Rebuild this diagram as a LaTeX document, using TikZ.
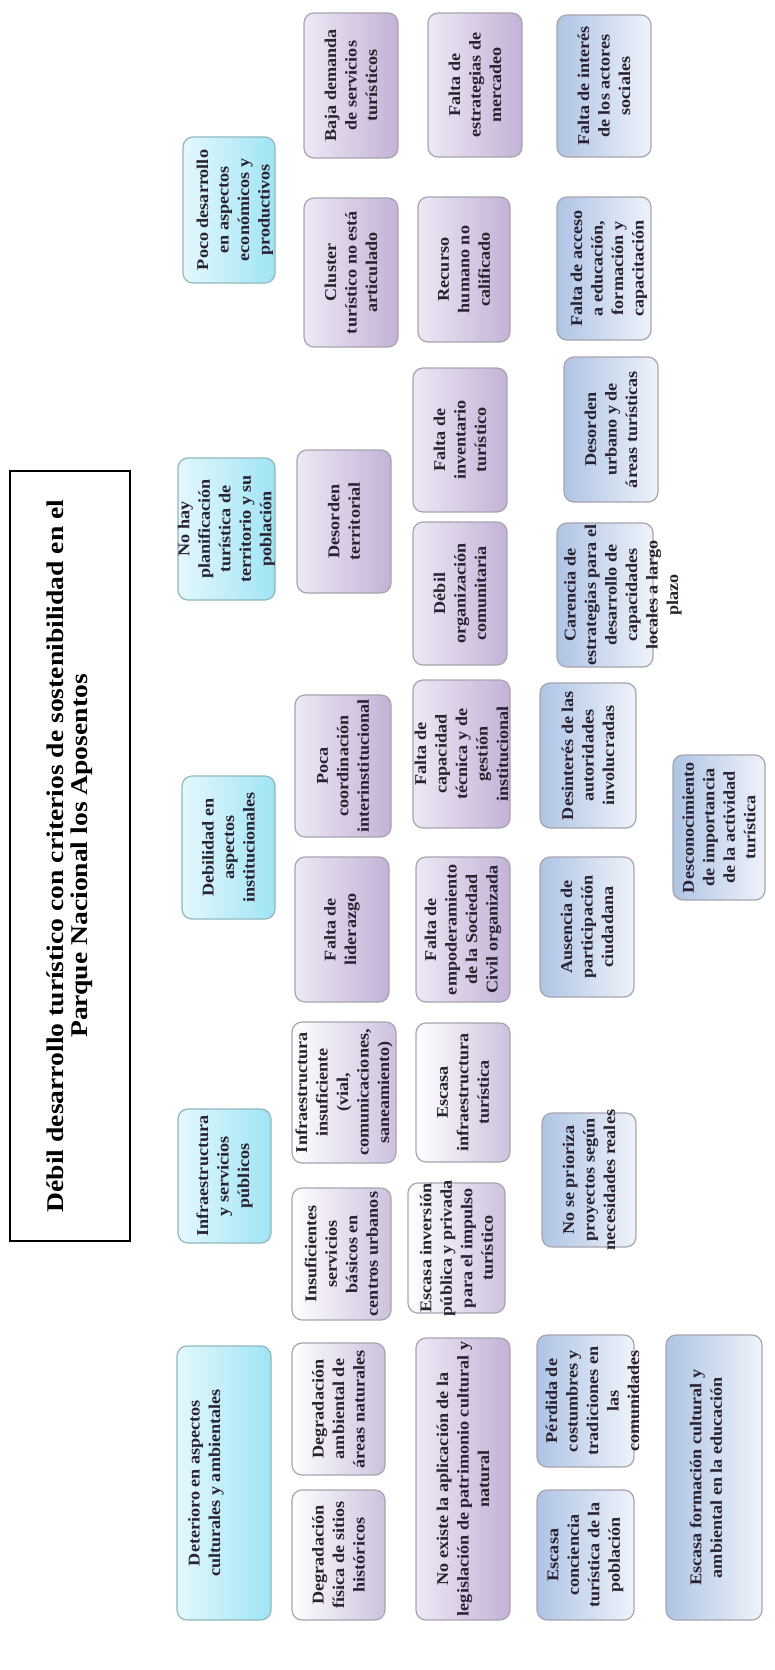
\documentclass[tikz,border=0pt]{standalone}
\usepackage{fontspec}
\setmainfont{Liberation Serif}
\newfontfamily\ttlfont[FakeStretch=1.15]{Liberation Serif}
\newfontfamily\bodyfont[FakeStretch=1.1]{Liberation Serif}
\definecolor{hdrL}{HTML}{E4F8FC}
\definecolor{hdrR}{HTML}{9FE4F4}
\definecolor{hdrline}{HTML}{8FB8BC}
\definecolor{purL}{HTML}{EEE8F5}
\definecolor{purR}{HTML}{C3B2D6}
\definecolor{wpL}{HTML}{FFFFFF}
\definecolor{wpR}{HTML}{CDC1DE}
\definecolor{bluL}{HTML}{AFC4E4}
\definecolor{bluR}{HTML}{EEF3FA}
\definecolor{boxline}{HTML}{A7A4B0}
\definecolor{txtc}{HTML}{2A2230}
\tikzset{
  boxbase/.style={rounded corners=10pt, draw=boxline, line width=1.2pt, rotate=90, inner sep=0pt},
  hdrbox/.style={boxbase, draw=hdrline, left color=hdrL, right color=hdrR},
  purbox/.style={boxbase, left color=purL, right color=purR},
  wpbox/.style={boxbase, left color=wpL, right color=wpR},
  blubox/.style={boxbase, left color=bluL, right color=bluR},
  txt/.style={rotate=90, align=center, inner sep=0pt, text=txtc, font=\bodyfont\bfseries\fontsize{16.5}{20.5}\selectfont},
  ttlbox/.style={draw=black, line width=1.4pt, fill=white, rotate=90, inner sep=0pt},
  ttltxt/.style={rotate=90, align=center, inner sep=0pt, font=\ttlfont\bfseries\fontsize{24}{24}\selectfont},
}
% #1 text x-offset, #2 style, #3 name, #4 x1, #5 x2, #6 y1, #7 y2, #8 text
\newcommand{\mkbox}[8][0]{%
  \node[#2, minimum width={#7-#6}, minimum height={#5-#4}] (#3) at ({(#4+#5)/2},{(#6+#7)/2}) {};
  \node[txt] (#3t) at ({(#4+#5)/2+#1},{(#6+#7)/2}) {#8};
}
\begin{document}
\begin{tikzpicture}[x=1pt,y=-1pt]
\useasboundingbox[fill=white] (0,0) rectangle (775,1670);

% title
\node[ttlbox, minimum width=770, minimum height=120] (title) at (70,856) {};
\node[ttltxt] (titlet) at (title.center) {D\'ebil desarrollo tur\'istico con criterios de sostenibilidad en el\\Parque Nacional los Aposentos};

% headers
\mkbox[-18]{hdrbox}{det}{177}{271}{1346}{1620}{Deterioro en aspectos\\culturales y ambientales}
\mkbox{hdrbox}{inf}{178}{271}{1109}{1243}{Infraestructura\\y servicios\\públicos}
\mkbox{hdrbox}{deb}{182}{275}{776}{919}{Debilidad en\\aspectos\\institucionales}
\mkbox{hdrbox}{nohay}{178}{275}{458}{600}{No hay\\planificación\\turística de\\territorio y su\\población}
\mkbox[6]{hdrbox}{poco}{183}{275}{137}{283}{Poco desarrollo\\en aspectos\\económicos y\\productivos}

% row 2
\mkbox{wpbox}{degf}{292}{385}{1490}{1620}{Degradación\\física de sitios\\históricos}
\mkbox{wpbox}{dega}{292}{385}{1343}{1475}{Degradación\\ambiental de\\áreas naturales}
\mkbox{wpbox}{insu}{292}{391}{1188}{1320}{Insuficientes\\servicios\\básicos en\\centros urbanos}
\mkbox{wpbox}{infi}{292}{396}{1022}{1163}{Infraestructura\\insuficiente\\(vial,\\comunicaciones,\\saneamiento)}
\mkbox{purbox}{lid}{295}{389}{857}{1002}{Falta de\\liderazgo}
\mkbox{purbox}{poca}{295}{391}{695}{837}{Poca\\coordinación\\interinstitucional}
\mkbox{purbox}{deso}{297}{391}{450}{593}{Desorden\\territorial}
\mkbox{purbox}{clus}{304}{398}{198}{347}{Cluster\\turístico no está\\articulado}
\mkbox{purbox}{baja}{304}{398}{13}{158}{Baja demanda\\de servicios\\turísticos}

% row 3
\mkbox{purbox}{noex}{416}{510}{1338}{1620}{No existe la aplicación de la\\legislación de patrimonio cultural y\\natural}
\mkbox{wpbox}{esin}{408}{505}{1183}{1313}{Escasa inversión\\pública y privada\\para el impulso\\turístico}
\mkbox{wpbox}{esif}{416}{510}{1023}{1162}{Escasa\\infraestructura\\turística}
\mkbox{purbox}{empo}{416}{510}{857}{1002}{Falta de\\empoderamiento\\de la Sociedad\\Civil organizada}
\mkbox{purbox}{capa}{413}{510}{680}{828}{Falta de\\capacidad\\técnica y de\\gestión\\institucional}
\mkbox{purbox}{debo}{413}{507}{522}{665}{Débil\\organización\\comunitaria}
\mkbox{purbox}{inve}{413}{507}{368}{512}{Falta de\\inventario\\turístico}
\mkbox{purbox}{recu}{418}{510}{197}{342}{Recurso\\humano no\\calificado}
\mkbox{purbox}{estr}{428}{522}{13}{157}{Falta de\\estrategias de\\mercadeo}

% row 4
\mkbox{blubox}{conc}{537}{634}{1490}{1620}{Escasa\\conciencia\\turística de la\\población}
\mkbox[7]{blubox}{perd}{537}{634}{1335}{1467}{Pérdida de\\costumbres y\\tradiciones en\\las\\comunidades}
\mkbox{blubox}{prio}{542}{636}{1113}{1247}{No se prioriza\\proyectos según\\necesidades reales}
\mkbox{blubox}{ause}{540}{634}{857}{997}{Ausencia de\\participación\\ciudadana}
\mkbox{blubox}{desi}{540}{636}{683}{828}{Desinterés de las\\autoridades\\involucradas}
\mkbox[18]{blubox}{care}{557}{653}{523}{667}{Carencia de\\estrategias para el\\desarrollo de\\capacidades\\locales a largo\\plazo}
\mkbox{blubox}{deur}{564}{658}{357}{502}{Desorden\\urbano y de\\áreas turísticas}
\mkbox[5]{blubox}{acce}{557}{651}{197}{340}{Falta de acceso\\a educación,\\formación y\\capacitación}
\mkbox{blubox}{inte}{557}{651}{15}{157}{Falta de interés\\de los actores\\sociales}

% row 5
\mkbox[-8]{blubox}{form}{666}{762}{1335}{1620}{Escasa formación cultural y\\ambiental en la educación}
\mkbox{blubox}{desc}{673}{765}{755}{900}{Desconocimiento\\de importancia\\de la actividad\\turística}
\end{tikzpicture}
\end{document}
